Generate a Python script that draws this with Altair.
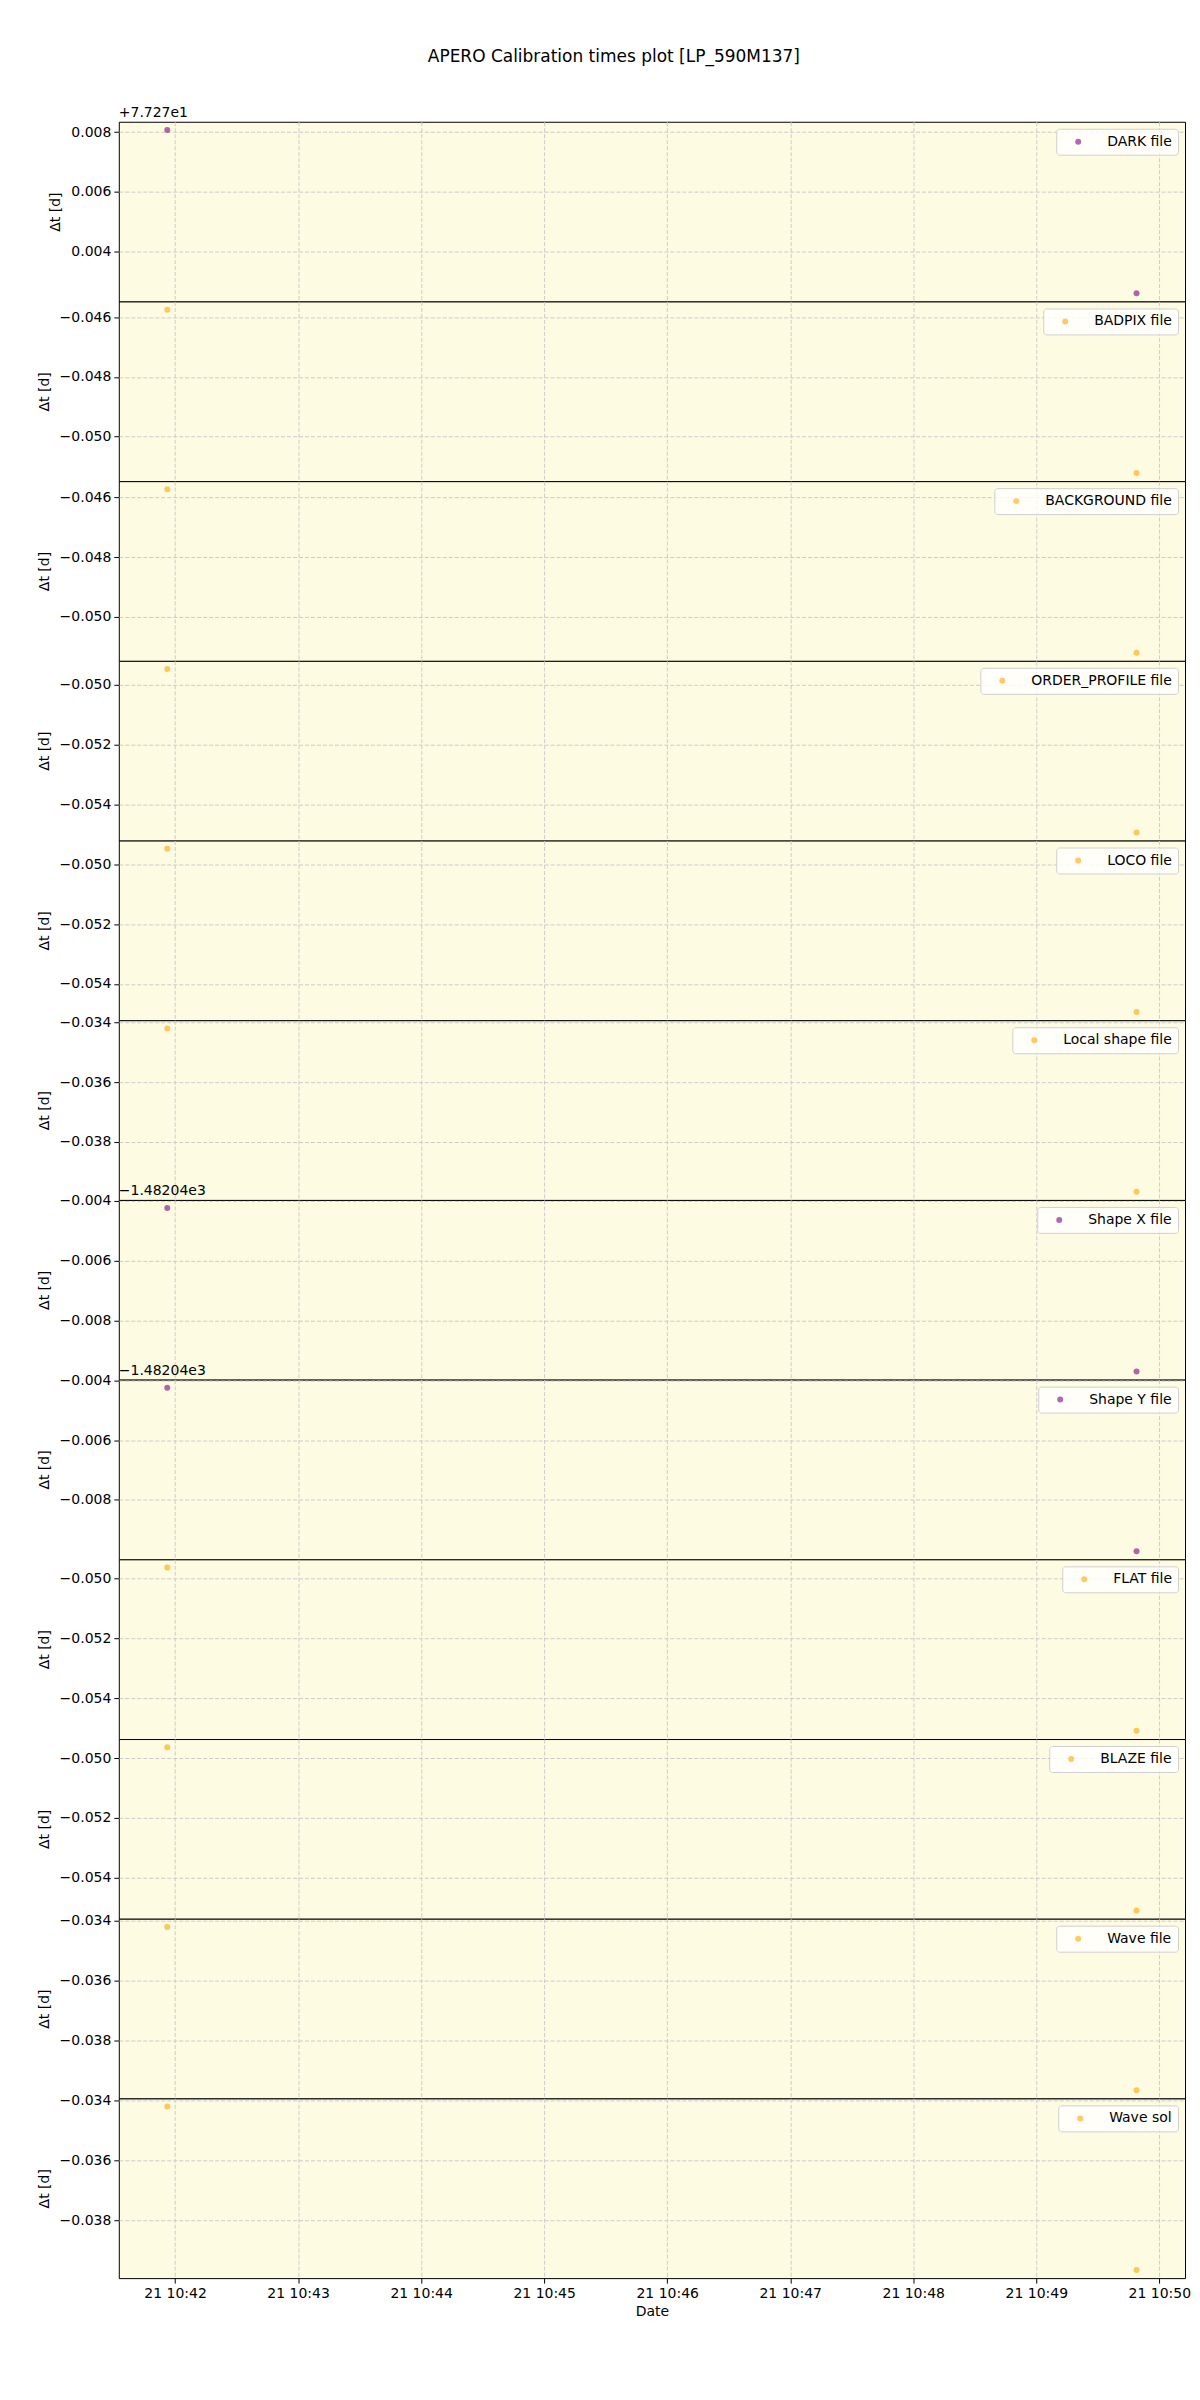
import altair as alt
import pandas as pd
import numpy as np

# ---------------- data ----------------
panel_labels = ["DARK file", "BADPIX file", "BACKGROUND file", "ORDER_PROFILE file",
                "LOCO file", "Local shape file", "Shape X file", "Shape Y file",
                "FLAT file", "BLAZE file", "Wave file", "Wave sol"]
panel_colors = ["purple", "orange", "orange", "orange", "orange", "orange",
                "purple", "purple", "orange", "orange", "orange", "orange"]

# observation times (UTC) of the two files
obs_times = ["2020-01-21T10:41:56.2Z", "2020-01-21T10:49:48.9Z"]

# x tick positions (one per minute)
x_tick_times = ["2020-01-21T10:42:00Z", "2020-01-21T10:43:00Z", "2020-01-21T10:44:00Z",
                "2020-01-21T10:45:00Z", "2020-01-21T10:46:00Z", "2020-01-21T10:47:00Z",
                "2020-01-21T10:48:00Z", "2020-01-21T10:49:00Z", "2020-01-21T10:50:00Z"]

# delta-t values [d] for each panel (first, second point)
dark_dt = [77.27807, 77.27260]
badpix_dt = [-0.04574, -0.05122]
background_dt = [-0.04573, -0.05120]
order_profile_dt = [-0.04947, -0.05494]
loco_dt = [-0.04947, -0.05494]
local_shape_dt = [-0.03420, -0.03967]
shape_x_dt = [-1482.04424, -1482.04971]
shape_y_dt = [-1482.04425, -1482.04972]
flat_dt = [-0.04963, -0.05510]
blaze_dt = [-0.04963, -0.05510]
wave_file_dt = [-0.03420, -0.03967]
wave_sol_dt = [-0.03420, -0.03967]

all_dt = [dark_dt, badpix_dt, background_dt, order_profile_dt, loco_dt, local_shape_dt,
          shape_x_dt, shape_y_dt, flat_dt, blaze_dt, wave_file_dt, wave_sol_dt]

# axis offsets (matplotlib offset text)
axis_offsets = [77.27, 0, 0, 0, 0, 0, -1482.04, -1482.04, 0, 0, 0, 0]
offset_texts = ["+7.727e1", "", "", "", "", "", "\u22121.48204e3", "\u22121.48204e3",
                "", "", "", ""]

title_text = "APERO Calibration times plot [LP_590M137]"

# ---------------- styling ----------------
FONT = "DejaVu Sans"
W, H = 1068, 180
COLOR_MAP = {"purple": "#800080", "orange": "#ffa500"}


def to_ms(s):
    return int(pd.Timestamp(s).value // 10**6)


t_ms = [to_ms(t) for t in obs_times]
tick_ms = [to_ms(t) for t in x_tick_times]
t_span = t_ms[1] - t_ms[0]
x_domain = [t_ms[0] - 0.05 * t_span, t_ms[1] + 0.05 * t_span]

panels = []
n = len(panel_labels)
for i, (lab, col, dts, off, otxt) in enumerate(zip(panel_labels, panel_colors, all_dt,
                                                   axis_offsets, offset_texts)):
    rel = [float(v - off) for v in dts]
    df = pd.DataFrame({"time": t_ms, "dt": rel, "label": [lab] * len(rel)})
    lo, hi = min(rel), max(rel)
    span = hi - lo
    y_dom = [lo - 0.05 * span, hi + 0.05 * span]
    step = 0.002
    ticks = [round(k * step, 6) for k in range(int(np.ceil(y_dom[0] / step - 1e-9)),
                                                 int(np.floor(y_dom[1] / step + 1e-9)) + 1)]
    last = i == n - 1
    if last:
        xaxis = alt.Axis(title="Date", format="%d %H:%M", values=tick_ms,
                         labelFontSize=14, titleFontSize=14, titleFontWeight="normal",
                         labelFont=FONT, titleFont=FONT, labelColor="black", titleColor="black",
                         tickColor="black", tickSize=5, labelPadding=3, titlePadding=4,
                         domain=False, grid=True, gridDash=[4, 2], gridColor="#cccccc")
    else:
        xaxis = alt.Axis(title=None, labels=False, ticks=False, domain=False,
                         values=tick_ms,
                         grid=True, gridDash=[4, 2], gridColor="#cccccc")
    yaxis = alt.Axis(title="\u0394t [d]", values=ticks, format=".3f",
                     labelFontSize=14, titleFontSize=14, titleFontWeight="normal",
                     labelFont=FONT, titleFont=FONT, labelColor="black", titleColor="black",
                     tickColor="black", tickSize=5, labelPadding=3, titlePadding=8,
                     domain=False, grid=True, gridDash=[4, 2], gridColor="#cccccc")
    pts = alt.Chart(df).mark_point(filled=True, size=36, opacity=0.6).encode(
        x=alt.X("time:T", scale=alt.Scale(type="utc", domain=x_domain, nice=False), axis=xaxis),
        y=alt.Y("dt:Q", scale=alt.Scale(domain=y_dom, nice=False, zero=False), axis=yaxis),
        color=alt.Color("label:N",
                        scale=alt.Scale(domain=[lab], range=[COLOR_MAP[col]]),
                        legend=alt.Legend(title=None, orient="top-right", offset=7,
                                          fillColor="rgba(255,255,255,0.8)",
                                          strokeColor="#d0d0d0", cornerRadius=3,
                                          padding=6, symbolOffset=9, labelOffset=22,
                                          labelFontSize=14, labelFont=FONT,
                                          labelColor="black", symbolType="circle",
                                          symbolSize=36)),
    )
    layer = pts
    if otxt:
        tdf = pd.DataFrame({"t": [otxt]})
        txt = alt.Chart(tdf).mark_text(align="left", baseline="bottom", fontSize=14,
                                       font=FONT, color="black").encode(
            x=alt.value(0), y=alt.value(-2), text="t:N")
        layer = alt.layer(pts, txt)
    panels.append(layer.properties(width=W, height=H))

chart = alt.vconcat(*panels, spacing=0, bounds="flush").resolve_scale(
    color="independent", y="independent"
).properties(
    title=alt.TitleParams(title_text, fontSize=17, font=FONT, fontWeight="normal",
                          anchor="middle", color="black", offset=39),
    padding={"left": 28, "top": 38, "right": 0, "bottom": 5}
).configure_view(
    fill="#fdfbe2", stroke="black", strokeWidth=1
)

chart.save("out.html", embed_options={"renderer": "svg", "actions": False})
